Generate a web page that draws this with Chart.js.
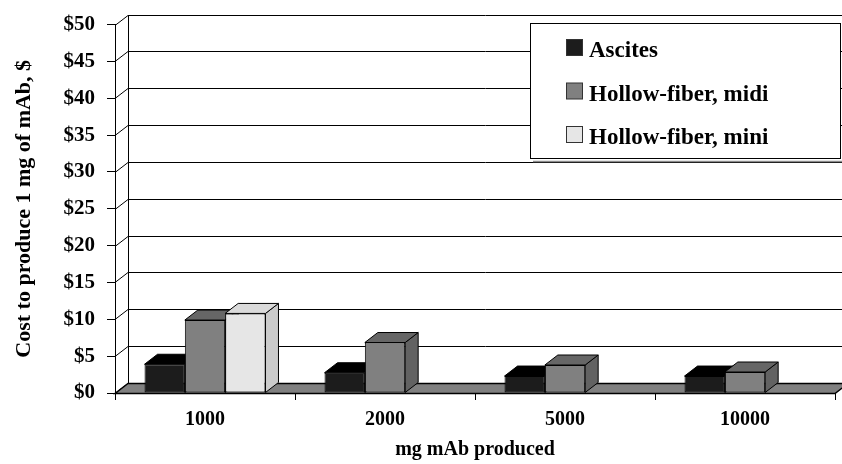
<!DOCTYPE html>
<html>
<head>
<meta charset="utf-8">
<script src="https://cdn.jsdelivr.net/npm/chart.js@4"></script>
<style>
html,body{margin:0;padding:0;background:#fff;}
#wrap{width:842px;height:464px;position:relative;}
</style>
</head>
<body>
<div id="wrap"><canvas id="c" width="842" height="464"></canvas></div>
<script>
const categories = ['1000', '2000', '5000', '10000'];
const seriesNames = ['Ascites', 'Hollow-fiber, midi', 'Hollow-fiber, mini'];
const ascites = [3.9, 2.75, 2.3, 2.3];
const hollowMidi = [9.9, 6.85, 3.8, 2.85];
const hollowMini = [10.8, null, null, null];
const yTicks = [0, 5, 10, 15, 20, 25, 30, 35, 40, 45, 50];

const FRONT = ['#1c1c1c', '#808080', '#e6e6e6'];
const TOP = ['#000000', '#666666', '#dadada'];
const SIDE = ['#050505', '#626262', '#cbcbcb'];
const DX = 13, DY = -10;
const FONT = 'Liberation Serif';

const depthPlugin = {
  id: 'depth3d',
  beforeDatasetsDraw(chart) {
    const {ctx, chartArea: a, scales: {y}} = chart;
    ctx.save();
    ctx.strokeStyle = '#000';
    ctx.lineWidth = 1;
    yTicks.forEach(v => {
      const py = Math.round(y.getPixelForValue(v)) + 0.5;
      ctx.beginPath();
      ctx.moveTo(a.left, py);
      ctx.lineTo(a.left + DX, py + DY);
      ctx.lineTo(a.right + DX + 20, py + DY);
      ctx.stroke();
    });
    const ty = Math.round(y.getPixelForValue(50)) + 0.5;
    const by = Math.round(y.getPixelForValue(0)) + 0.5;
    ctx.beginPath();
    ctx.moveTo(a.left + DX + 0.5, ty + DY);
    ctx.lineTo(a.left + DX + 0.5, by + DY);
    ctx.stroke();
    // floor
    ctx.beginPath();
    ctx.moveTo(a.left, by);
    ctx.lineTo(a.right, by);
    ctx.lineTo(a.right + DX, by + DY);
    ctx.lineTo(a.left + DX, by + DY);
    ctx.closePath();
    ctx.fillStyle = '#808080';
    ctx.fill();
    ctx.lineWidth = 1.5;
    ctx.stroke();

    // top and side faces of every bar, datasets left to right
    ctx.lineWidth = 1;
    ctx.lineJoin = 'round';
    chart.data.datasets.forEach((ds, idx) => {
      const meta = chart.getDatasetMeta(idx);
      meta.data.forEach((bar, i) => {
        if (ds.data[i] == null) return;
        const p = bar.getProps(['x', 'y', 'base', 'width'], true);
        const l = p.x - p.width / 2, r = p.x + p.width / 2;
        ctx.beginPath();
        ctx.moveTo(r, p.y);
        ctx.lineTo(r + DX, p.y + DY);
        ctx.lineTo(r + DX, p.base + DY);
        ctx.lineTo(r, p.base);
        ctx.closePath();
        ctx.fillStyle = SIDE[idx];
        ctx.fill();
        ctx.stroke();
        ctx.beginPath();
        ctx.moveTo(l, p.y);
        ctx.lineTo(l + DX, p.y + DY);
        ctx.lineTo(r + DX, p.y + DY);
        ctx.lineTo(r, p.y);
        ctx.closePath();
        ctx.fillStyle = TOP[idx];
        ctx.fill();
        ctx.stroke();
      });
    });
    ctx.restore();
  },
  afterDraw(chart) {
    const ctx = chart.ctx;
    ctx.save();
    ctx.strokeStyle = '#8a8a8a';
    ctx.lineWidth = 1.5;
    ctx.beginPath();
    ctx.moveTo(533, 161.5);
    ctx.lineTo(842, 161.5);
    ctx.stroke();
    ctx.fillStyle = '#fff';
    ctx.fillRect(530.5, 23.5, 310, 135);
    ctx.strokeStyle = '#000';
    ctx.lineWidth = 1;
    ctx.strokeRect(530.5, 23.5, 310, 135);
    ctx.font = 'bold 23px "' + FONT + '"';
    ctx.textBaseline = 'alphabetic';
    ctx.textAlign = 'left';
    chart.data.datasets.forEach((ds, k) => {
      const base = 57 + k * 43.5;
      ctx.fillStyle = FRONT[k];
      ctx.fillRect(566.5, base - 17.5, 16, 16);
      ctx.strokeStyle = '#333';
      ctx.strokeRect(566.5, base - 17.5, 16, 16);
      ctx.fillStyle = '#000';
      ctx.fillText(ds.label, 589, base);
    });
    ctx.restore();
  }
};

const data = {
  labels: categories,
  datasets: [ascites, hollowMidi, hollowMini].map((vals, k) => ({
    label: seriesNames[k],
    data: vals,
    backgroundColor: FRONT[k],
    borderColor: '#000',
    borderWidth: 1,
    borderSkipped: false,
    categoryPercentage: 0.672,
    barPercentage: 1.0,
    clip: false
  }))
};

new Chart(document.getElementById('c'), {
  type: 'bar',
  data: data,
  plugins: [depthPlugin],
  options: {
    responsive: false,
    animation: false,
    layout: {padding: {top: 24, right: 7, bottom: 0, left: 0}},
    plugins: {legend: {display: false}, tooltip: {enabled: false}},
    scales: {
      x: {
        afterFit(s) { s.height = 71; },
        grid: {offset: true, drawOnChartArea: false, drawTicks: true, tickLength: 7, color: '#000'},
        border: {display: true, color: '#000'},
        ticks: {color: '#000', padding: 8, font: {family: FONT, size: 20, weight: 'bold'}},
        title: {display: true, text: 'mg mAb produced', color: '#000',
                padding: {top: 0, bottom: 2}, font: {family: FONT, size: 20, weight: 'bold'}}
      },
      y: {
        min: 0, max: 50,
        afterFit(s) { s.width = 115; },
        afterBuildTicks(s) { s.ticks = yTicks.map(v => ({value: v})); },
        grid: {drawOnChartArea: false, drawTicks: true, tickLength: 8, color: '#000'},
        border: {display: true, color: '#000'},
        ticks: {color: '#000', padding: 12, callback: v => '$' + v,
                font: {family: FONT, size: 21, weight: 'bold'}},
        title: {display: true, text: 'Cost to produce 1 mg of mAb, $', color: '#000',
                padding: {top: 11, bottom: 0}, font: {family: FONT, size: 22, weight: 'bold'}}
      }
    }
  }
});
</script>
</body>
</html>
